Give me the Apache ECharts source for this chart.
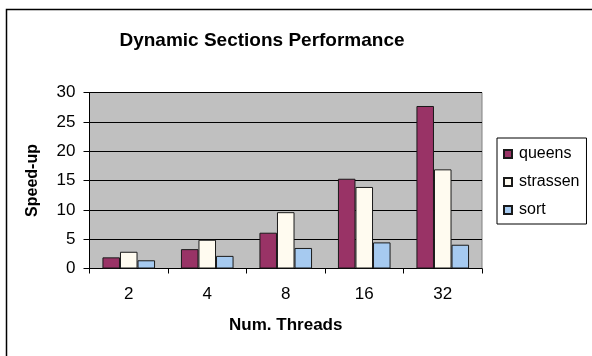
<!DOCTYPE html>
<html><head><meta charset="utf-8">
<script src="https://cdn.jsdelivr.net/npm/echarts@6/dist/echarts.min.js"></script>
<style>html,body{margin:0;padding:0;background:#fff}#c{width:592px;height:356px}</style>
</head><body><div id="c"></div>
<script>
var categories = ['2', '4', '8', '16', '32'];
var queens = [1.9, 3.3, 6.1, 15.3, 27.7];
var strassen = [2.85, 4.9, 9.6, 13.9, 16.9];
var sort = [1.4, 2.15, 3.5, 4.45, 4.05];
var yTicks = [0, 5, 10, 15, 20, 25, 30];

var font = 'Liberation Sans, Arial, sans-serif';
var chart = echarts.init(document.getElementById('c'), null, {renderer: 'canvas'});
function s(name, data, color) {
  return {
    name: name, type: 'bar', data: data,
    barGap: '0%', barCategoryGap: '33%',
    itemStyle: {color: color, borderColor: '#1a1a1a', borderWidth: 1},
    emphasis: {disabled: true}
  };
}
chart.setOption({
  animation: false,
  backgroundColor: '#fff',
  textStyle: {fontFamily: font},
  title: {
    text: 'Dynamic Sections Performance', left: 257, top: 26, textAlign: 'center',
    textStyle: {fontFamily: font, fontSize: 19, fontWeight: 'bold', color: '#000'}
  },
  graphic: [{
    type: 'rect', shape: {x: 6.5, y: 9.5, width: 620, height: 420},
    style: {fill: 'none', stroke: '#000', lineWidth: 1.5}, silent: true, z: 100
  }],
  legend: {
    orient: 'vertical', left: 497, top: 138,
    padding: [8, 7, 6, 6],
    itemWidth: 8, itemHeight: 8, itemGap: 12,
    borderColor: '#000', borderWidth: 1,
    icon: 'rect',
    textStyle: {fontFamily: font, fontSize: 16, color: '#000', padding: [0, 0, 0, 2]},
    data: ['queens', 'strassen', 'sort']
  },
  grid: {
    left: 89.5, right: 110, top: 92.5, bottom: 87.5,
    show: true, backgroundColor: '#c0c0c0', borderColor: '#808080', borderWidth: 1,
    containLabel: false
  },
  xAxis: {
    type: 'category', data: categories,
    name: 'Num. Threads', nameLocation: 'middle', nameGap: 48,
    nameTextStyle: {fontFamily: font, fontSize: 17, fontWeight: 'bold', color: '#000'},
    axisLine: {show: true, lineStyle: {color: '#000', width: 1}},
    axisTick: {show: true, length: 5, lineStyle: {color: '#000'}},
    axisLabel: {fontFamily: font, fontSize: 17, color: '#000', margin: 17}
  },
  yAxis: {
    type: 'value', min: 0, max: 30, interval: 5,
    name: 'Speed-up', nameLocation: 'middle', nameGap: 49, nameRotate: 90,
    nameTextStyle: {fontFamily: font, fontSize: 16, fontWeight: 'bold', color: '#000'},
    axisLine: {show: true, lineStyle: {color: '#000', width: 1}},
    axisTick: {show: true, inside: false, length: 6, lineStyle: {color: '#000'}},
    axisLabel: {fontFamily: font, fontSize: 17, color: '#000', margin: 14,
      formatter: function (v) { return yTicks.indexOf(v) >= 0 ? String(v) : ''; }},
    splitLine: {show: true, lineStyle: {color: '#000', width: 1}}
  },
  series: [s('queens', queens, '#993366'), s('strassen', strassen, '#fffbf0'), s('sort', sort, '#a6caf0')]
});
</script></body></html>
